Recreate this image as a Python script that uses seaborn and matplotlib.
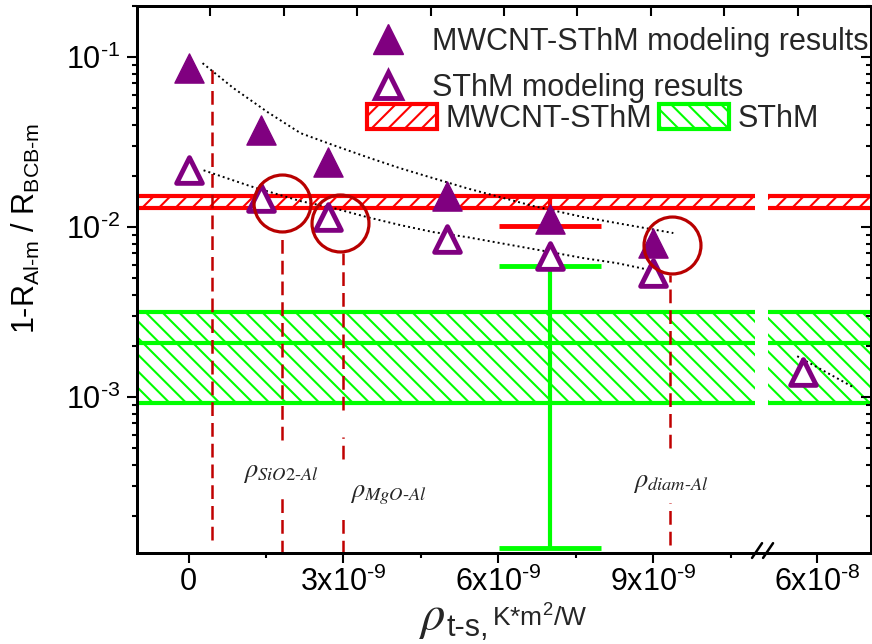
import numpy as np
import pandas as pd
import matplotlib
matplotlib.use("Agg")
import matplotlib.pyplot as plt
import seaborn as sns
from matplotlib.lines import Line2D
from matplotlib.patches import Patch

# modelling results, x = rho_t-s in K*m2/W
rho_ts = [0.0, 1.4e-9, 2.7e-9, 5.0e-9, 7.0e-9, 9.0e-9]
mwcnt_model = [0.086, 0.0375, 0.0241, 0.0152, 0.0111, 0.0081]
sthm_model = [0.0216, 0.0148, 0.01145, 0.0085, 0.0068, 0.0054]
rho_far = [5.973e-8]
sthm_far = [0.00141]

# dotted guide curves
fit_mw_x = [0.27e-9, 0.87e-9, 1.53e-9, 2.17e-9, 2.81e-9, 3.46e-9, 4.10e-9,
            4.74e-9, 5.40e-9, 6.04e-9, 6.68e-9, 7.65e-9, 8.30e-9, 9.39e-9]
fit_mw_y = [0.0922, 0.0657, 0.0475, 0.0357, 0.0303, 0.0258, 0.0222,
            0.0194, 0.0169, 0.0150, 0.0133, 0.01145, 0.01056, 0.00923]
fit_sthm_x = [0.29e-9, 1.20e-9, 2.17e-9, 2.81e-9, 3.46e-9, 4.10e-9, 4.74e-9,
              5.40e-9, 6.04e-9, 7.01e-9, 7.65e-9, 8.30e-9, 9.14e-9]
fit_sthm_y = [0.0216, 0.0174, 0.01422, 0.01294, 0.01145, 0.01028, 0.00935,
              0.00873, 0.00805, 0.00713, 0.00657, 0.00614, 0.00543]
fit_far_x = [5.962e-8, 6.070e-8]
fit_far_y = [0.00174, 0.001146]

# experimental ranges
mwcnt_band = [0.0130, 0.0152]
mwcnt_mean = 0.0141
mwcnt_err = [0.0101, 0.0152]
sthm_band = [0.00092, 0.00316]
sthm_mean = 0.00208
sthm_err = [0.00013, 0.0059]
err_x = 7.0e-9

# interface resistances of reference materials
mat_rho = [0.445e-9, 1.8e-9, 3.0e-9, 9.33e-9]
mat_segments = [
    [(1.44e-4, 0.092)],
    [(1.2e-4, 2.72e-4), (5.6e-4, 0.0092)],
    [(1.2e-4, 2.08e-4), (4.3e-4, 5.8e-4), (8.4e-4, 0.0070)],
    [(1.35e-4, 2.38e-4), (5.0e-4, 0.00523)],
]
mat_labels = [r"$\rho_{SiO2\text{-}Al}$", r"$\rho_{MgO\text{-}Al}$", r"$\rho_{diam\text{-}Al}$"]
mat_label_x = [1.045e-9, 3.12e-9, 8.61e-9]
mat_label_y = [3.57e-4, 2.65e-4, 3.12e-4]
circle_x = [1.8e-9, 2.94e-9, 9.37e-9]
circle_y = [0.01384, 0.01057, 0.00783]

xtick_vals = [0, 3e-9, 6e-9, 9e-9, 6e-8]
xtick_labels = ["0", r"3x10$^{\text{-9}}$", r"6x10$^{\text{-9}}$", r"9x10$^{\text{-9}}$", r"6x10$^{\text{-8}}$"]
ytick_vals = [1e-3, 1e-2, 1e-1]
ytick_labels = [r"10$^{\text{-3}}$", r"10$^{\text{-2}}$", r"10$^{\text{-1}}$"]

purple = "#800080"
red = "#FF0000"
green = "#00FF00"
darkred = "#C00000"

sns.set_theme(style="ticks")
plt.rcParams["font.family"] = ["Liberation Sans", "DejaVu Sans"]
plt.rcParams["mathtext.fontset"] = "custom"
plt.rcParams["mathtext.rm"] = "Liberation Sans"
plt.rcParams["mathtext.it"] = "Liberation Sans:italic"
plt.rcParams["mathtext.bf"] = "Liberation Sans:bold"
plt.rcParams["hatch.linewidth"] = 1.5
plt.rcParams["axes.edgecolor"] = "black"
plt.rcParams["axes.linewidth"] = 2

fig = plt.figure(figsize=(8.72, 6.44), dpi=100)
ax = fig.add_axes([0.1571, 0.1413, 0.8418, 0.8494])

# broken x axis: 1.11e-8 .. 5.893e-8 is cut out
XB, XR = 1.11e-8, 5.893e-8


def fwd(x):
    x = np.asarray(x, dtype=float)
    return np.where(x <= XB, x, np.where(x >= XR, x - (XR - XB), XB))


def inv(x):
    x = np.asarray(x, dtype=float)
    return np.where(x <= XB, x, x + (XR - XB))


ax.set_xscale("function", functions=(fwd, inv))
ax.set_yscale("log")
ax.set_xlim(-1e-9, 6.105e-8)
ax.set_ylim(1.21e-4, 0.2)

# hatched experimental bands, split at the break
for x0, x1 in [(-1e-9, 1.097e-8), (5.906e-8, 6.105e-8)]:
    ax.fill_between([x0, x1], sthm_band[0], sthm_band[1], facecolor="white",
                    edgecolor=green, hatch="\\\\", linewidth=0, zorder=1)
    ax.hlines([sthm_band[0], sthm_mean, sthm_band[1]], x0, x1, colors=green, lw=3, zorder=2)
    ax.fill_between([x0, x1], mwcnt_band[0], mwcnt_band[1], facecolor="white",
                    edgecolor=red, hatch="//", linewidth=0, zorder=1)
    ax.hlines(mwcnt_band, x0, x1, colors=red, lw=3, zorder=2)

ax.errorbar([err_x], [sthm_mean], yerr=[[sthm_mean - sthm_err[0]], [sthm_err[1] - sthm_mean]],
            fmt="none", ecolor=green, elinewidth=3, capsize=37, capthick=3.5, zorder=3)
ax.errorbar([err_x], [mwcnt_mean], yerr=[[mwcnt_mean - mwcnt_err[0]], [mwcnt_err[1] - mwcnt_mean]],
            fmt="none", ecolor=red, elinewidth=3, capsize=37, capthick=3.5, zorder=3)

# material lines
for xm, segs in zip(mat_rho, mat_segments):
    for lo, hi in segs:
        ax.plot([xm, xm], [lo, hi], color=darkred, lw=1.8, linestyle=(0, (5.5, 2.8)), zorder=4)
for lab, lx, ly in zip(mat_labels, mat_label_x, mat_label_y):
    ax.text(lx, ly, lab, fontsize=19, math_fontfamily="stix", ha="left", va="center", zorder=6)

# guides
for fx, fy in [(fit_mw_x, fit_mw_y), (fit_sthm_x, fit_sthm_y), (fit_far_x, fit_far_y)]:
    sns.lineplot(x=fx, y=fy, ax=ax, color="black", lw=1.4, linestyle=(0, (1, 1.6)),
                 estimator=None, sort=False, zorder=5)

df = pd.DataFrame({"rho": rho_ts, "mwcnt": mwcnt_model, "sthm": sthm_model})
far = pd.DataFrame({"rho": rho_far, "sthm": sthm_far})
sns.scatterplot(data=df, x="rho", y="mwcnt", ax=ax, marker="^", s=21 ** 2,
                color=purple, edgecolor=purple, linewidth=1, zorder=6, legend=False)
sns.scatterplot(data=df, x="rho", y="sthm", ax=ax, marker="^", s=18.5 ** 2,
                color="white", edgecolor=purple, linewidth=3.5, zorder=6, legend=False)
sns.scatterplot(data=far, x="rho", y="sthm", ax=ax, marker="^", s=18.5 ** 2,
                color="white", edgecolor=purple, linewidth=3.5, zorder=6, legend=False)

ax.plot(circle_x, circle_y, "o", ms=41, mfc="none", mec="#B80000", mew=2.3, ls="none", zorder=7)

# ticks
ax.xaxis.set_major_locator(matplotlib.ticker.FixedLocator(xtick_vals))
ax.xaxis.set_major_formatter(matplotlib.ticker.FixedFormatter(xtick_labels))
ax.xaxis.set_minor_locator(matplotlib.ticker.FixedLocator([1.5e-9, 4.5e-9, 7.5e-9, 10.5e-9]))
ax.yaxis.set_major_locator(matplotlib.ticker.FixedLocator(ytick_vals))
ax.yaxis.set_major_formatter(matplotlib.ticker.FixedFormatter(ytick_labels))
ax.yaxis.set_minor_formatter(matplotlib.ticker.NullFormatter())
ax.tick_params(which="both", direction="out", width=1.5, labelsize=22, top=False, right=False,
               colors="black")
ax.tick_params(which="major", length=7)
ax.tick_params(which="minor", length=3.6)
ax.tick_params(axis="x", pad=3)
ax.tick_params(axis="y", pad=5)

axr = ax.twinx()
axr.set_yscale("log")
axr.set_ylim(ax.get_ylim())
axr.tick_params(which="both", direction="in", width=1.5, labelright=False, colors="black")
axr.tick_params(which="major", length=7)
axr.tick_params(which="minor", length=3.6)
axt = ax.twiny()
axt.set_xlim(0, 1)
axt.set_xticks(np.arange(1, 10) / 10)
axt.tick_params(direction="in", length=7, width=1.5, labeltop=False, colors="black")
for a in (axr, axt):
    a.grid(False)

# axis break marks
for dx in (0.0, 0.015):
    ax.plot([0.8379 + dx, 0.8515 + dx], [-0.009, 0.018], transform=ax.transAxes,
            color="black", lw=1.8, clip_on=False, zorder=10)

ax.set_xlabel("")
ax.set_ylabel(r"1-R$_{\text{Al-m}}$ / R$_{\text{BCB-m}}$", fontsize=22, color="black")
ax.yaxis.set_label_coords(-0.13, 0.594)
fig.text(419 / 872, 1 - 629 / 644, r"$\rho$", fontsize=35, math_fontfamily="stix",
         ha="left", va="baseline")
fig.text(446 / 872, 1 - 636 / 644, "t-s,", fontsize=22, ha="left", va="baseline")
fig.text(492 / 872, 1 - 627 / 644, "K*m$^2$/W", fontsize=19, ha="left", va="baseline")

# legends
h1 = [Line2D([], [], marker="^", ls="none", ms=21, color=purple, mec=purple, mew=1),
      Line2D([], [], marker="^", ls="none", ms=18.5, mfc="white", mec=purple, mew=3.5)]
leg1 = ax.legend(h1, ["MWCNT-SThM modeling results", "SThM modeling results"],
                 loc="upper left", bbox_to_anchor=(357.5 / 872, 1 - 27 / 644),
                 bbox_transform=fig.transFigure, frameon=False, borderpad=0, borderaxespad=0,
                 handlelength=2.0, handletextpad=0.45, labelspacing=0.52, fontsize=22)
ax.add_artist(leg1)
h2 = [Patch(facecolor="white", edgecolor=red, hatch="//", lw=3),
      Patch(facecolor="white", edgecolor=green, hatch="\\\\", lw=3)]
leg2 = ax.legend(h2, ["MWCNT-SThM", "SThM"], ncol=2, loc="upper left",
                 bbox_to_anchor=(367 / 872, 1 - 104 / 644), bbox_transform=fig.transFigure,
                 frameon=False, borderpad=0, borderaxespad=0, handlelength=2.29,
                 handleheight=0.9, handletextpad=0.29, columnspacing=0.2, fontsize=22)

fig.savefig("out.png", dpi=100)
